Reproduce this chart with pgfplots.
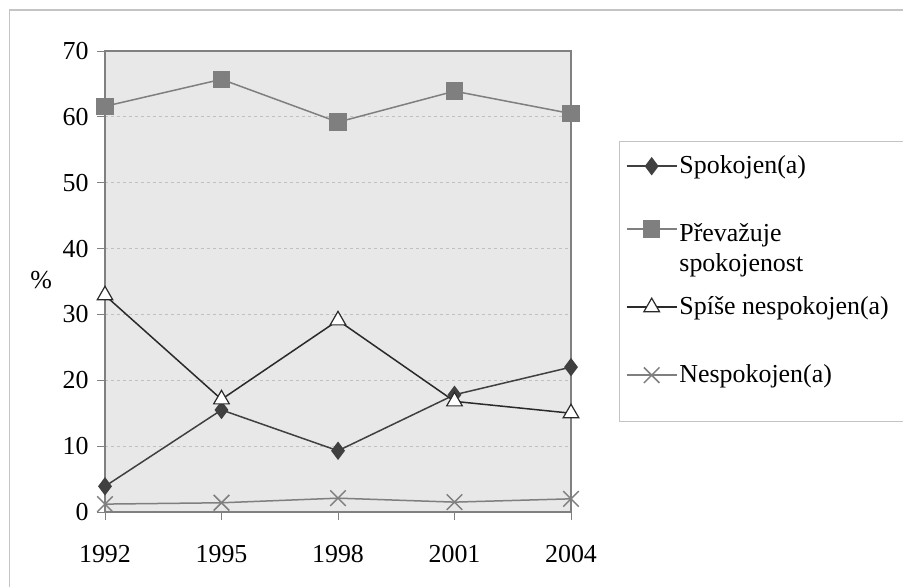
\documentclass[border=0pt]{standalone}
\usepackage{fontspec}
\setmainfont{Liberation Serif}
\usepackage{pgfplots}
\pgfplotsset{compat=1.18}
\definecolor{bg}{HTML}{E8E8E8}
\definecolor{bordergray}{HTML}{C4C4C4}
\definecolor{axisgray}{HTML}{808080}
\definecolor{gridgray}{HTML}{C0C0C0}
\definecolor{sdark}{HTML}{404040}
\definecolor{sgray}{HTML}{7F7F7F}
\definecolor{sblack}{HTML}{2A2A2A}
\pgfplotsset{
  legone/.style={legend image code/.code={\begin{scope}[yshift=7bp]\draw[mark repeat=2,mark phase=2,##1] plot coordinates {(0bp,0bp) (25bp,0bp) (50bp,0bp)};\end{scope}}},
  legtwo/.style={legend image code/.code={\begin{scope}[yshift=42bp]\draw[mark repeat=2,mark phase=2,##1] plot coordinates {(0bp,0bp) (25bp,0bp) (50bp,0bp)};\end{scope}}},
}
\begin{document}
\begin{tikzpicture}
\path[use as bounding box] (0,0) rectangle (903bp,587bp);
\fill[white] (0,0) rectangle (903bp,587bp);
\draw[bordergray, line width=1.2bp] (9.5bp,577bp) rectangle (1000bp,-20bp);
\draw[bordergray, line width=1bp, fill=white] (619.5bp,445bp) rectangle (915bp,165bp);
\begin{axis}[
  at={(105bp,75bp)}, anchor=south west,
  scale only axis, width=466bp, height=461bp,
  xmin=1992, xmax=2004, ymin=0, ymax=70,
  xtick={1992,1995,1998,2001,2004},
  ytick={0,10,20,30,40,50,60,70},
  xticklabel style={/pgf/number format/1000 sep={}, yshift=-22bp},
  yticklabel style={xshift=-5bp},
  /pgf/number format/assume math mode=true,
  ticklabel style={font=\fontsize{26}{30}\selectfont},
  tick align=outside, major tick length=8bp,
  xtick pos=bottom, ytick pos=left,
  tick style={axisgray, line width=0.8bp},
  axis line style={axisgray, line width=1.2bp},
  axis background/.style={fill=bg},
  ymajorgrids, major grid style={gridgray, dashed, line width=0.8bp},
  ylabel={\%},
  ylabel style={rotate=-90, font=\fontsize{26}{30}\selectfont, at={(axis description cs:-0.137,0.503)}, anchor=center},
  legend cell align=left,
  legone,
  legend style={at={(axis description cs:1.1175,0.8026)}, anchor=north west,
    draw=none, fill=none,
    font=\fontsize{26}{30}\selectfont,
    cells={align=left, anchor=base west, text height=20bp, inner xsep=3bp, inner ysep=0bp},
    row sep=0bp, inner xsep=0bp, inner ysep=9bp},
]
\addplot[sdark, line width=1.5bp, mark=diamond*, mark size=8bp, mark options={fill=sdark, draw=sdark, solid}]
  coordinates {(1992,3.9) (1995,15.5) (1998,9.3) (2001,17.8) (2004,22.0)};
\addlegendentry[text depth=43bp]{Spokojen(a)}
\addplot[sgray, line width=1.5bp, mark=square*, mark size=8bp, mark options={fill=sgray, draw=sgray, solid}, legtwo]
  coordinates {(1992,61.6) (1995,65.7) (1998,59.2) (2001,63.9) (2004,60.5)};
\addlegendentry[text height=51bp, text depth=19bp]{Převažuje\\spokojenost}
\addplot[sblack, line width=1.5bp, mark=triangle*, mark size=9bp, mark options={fill=white, draw=sblack, line width=1.2bp, solid}]
  coordinates {(1992,32.9) (1995,17.1) (1998,29.1) (2001,16.8) (2004,15.0)};
\addlegendentry[text depth=44bp]{Spíše nespokojen(a)}
\addplot[sgray, line width=1.5bp, mark=x, mark size=11bp, mark options={draw=sgray, line width=1.5bp, solid}]
  coordinates {(1992,1.2) (1995,1.4) (1998,2.1) (2001,1.5) (2004,2.0)};
\addlegendentry[text depth=6bp]{Nespokojen(a)}
\end{axis}
\end{tikzpicture}
\end{document}
